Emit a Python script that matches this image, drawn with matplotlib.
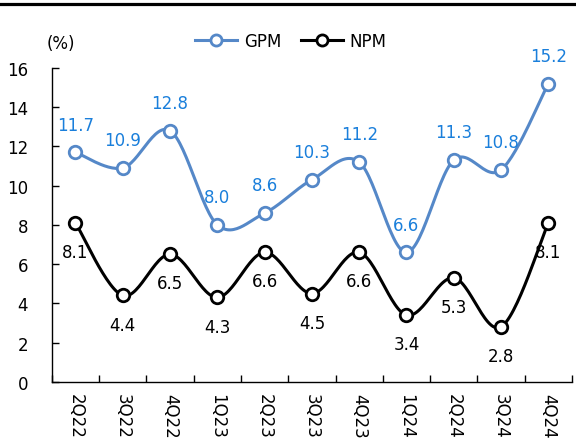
import matplotlib.pyplot as plt
import numpy as np

QUARTERS = ['2Q22', '3Q22', '4Q22', '1Q23', '2Q23', '3Q23', '4Q23', '1Q24', '2Q24', '3Q24', '4Q24']
GPM = [11.7, 10.9, 12.8, 8.0, 8.6, 10.3, 11.2, 6.6, 11.3, 10.8, 15.2]
NPM = [8.1, 4.4, 6.5, 4.3, 6.6, 4.5, 6.6, 3.4, 5.3, 2.8, 8.1]

GPM_LINE = '#5588C8'
GPM_TEXT = '#1A7FDB'
NPM_LINE = '#000000'
FONT_SIZE = 12


def smooth(xs, ys, n=30):
    # bezier smoothing like the office "smoothed line" option
    xs = np.asarray(xs, float)
    ys = np.asarray(ys, float)
    pts = np.column_stack([xs, ys])
    out = []
    for i in range(len(pts) - 1):
        p0 = pts[max(i - 1, 0)]
        p1 = pts[i]
        p2 = pts[i + 1]
        p3 = pts[min(i + 2, len(pts) - 1)]
        c1 = p1 + (p2 - p0) / 6
        c2 = p2 - (p3 - p1) / 6
        t = np.linspace(0, 1, n)[:, None]
        seg = (1 - t) ** 3 * p1 + 3 * (1 - t) ** 2 * t * c1 + 3 * (1 - t) * t ** 2 * c2 + t ** 3 * p2
        out.append(seg if i == 0 else seg[1:])
    out = np.vstack(out)
    return out[:, 0], out[:, 1]


fig = plt.figure(figsize=(5.76, 4.39), dpi=100)
ax = fig.add_axes([0.090, 0.128, 0.903, 0.715])

x = np.arange(len(QUARTERS))

for data, color in [(GPM, GPM_LINE), (NPM, NPM_LINE)]:
    sx, sy = smooth(x, data)
    ax.plot(sx, sy, color=color, lw=2.2, zorder=2)
    ax.plot(x, data, ls='none', marker='o', ms=9, mfc='white', mec=color, mew=2, zorder=3)

for xi, v in zip(x, GPM):
    ax.annotate(f'{v:.1f}', (xi, v), xytext=(0, 20), textcoords='offset points',
                ha='center', va='center', color=GPM_TEXT, fontsize=FONT_SIZE)
for xi, v in zip(x, NPM):
    ax.annotate(f'{v:.1f}', (xi, v), xytext=(0, -21), textcoords='offset points',
                ha='center', va='center', color='black', fontsize=FONT_SIZE)

ax.set_xlim(-0.5, len(QUARTERS) - 0.5)
ax.set_ylim(0, 16)
ax.set_yticks(range(0, 17, 2))
ax.set_xticks(x)
ax.set_xticklabels(QUARTERS, rotation=270, fontsize=FONT_SIZE)
ax.set_xticks(np.arange(-0.5, len(QUARTERS)), minor=True)
ax.tick_params(axis='x', which='major', length=0, pad=8)
ax.tick_params(axis='x', which='minor', direction='in', length=5, width=1)
ax.tick_params(axis='y', direction='in', length=5, width=1, labelsize=FONT_SIZE, pad=17)

for side in ['top', 'right']:
    ax.spines[side].set_visible(False)
for side in ['left', 'bottom']:
    ax.spines[side].set_color('black')
    ax.spines[side].set_linewidth(1)

ax.text(-0.6, 16.8, '(%)', fontsize=FONT_SIZE, ha='left', va='bottom')

h1, = ax.plot([], [], color=GPM_LINE, lw=2.2, marker='o', ms=8, mfc='white', mec=GPM_LINE, mew=2)
h2, = ax.plot([], [], color=NPM_LINE, lw=2.2, marker='o', ms=8, mfc='white', mec=NPM_LINE, mew=2)
fig.legend([h1, h2], ['GPM', 'NPM'], loc='center', bbox_to_anchor=(0.505, 0.905), ncol=2,
           frameon=False, fontsize=FONT_SIZE, handlelength=2.5, columnspacing=1.2, handletextpad=0.4)

fig.add_artist(plt.Line2D([0, 1], [0.988, 0.988], color='black', lw=2.3, transform=fig.transFigure))

fig.savefig('out.png', dpi=100)
